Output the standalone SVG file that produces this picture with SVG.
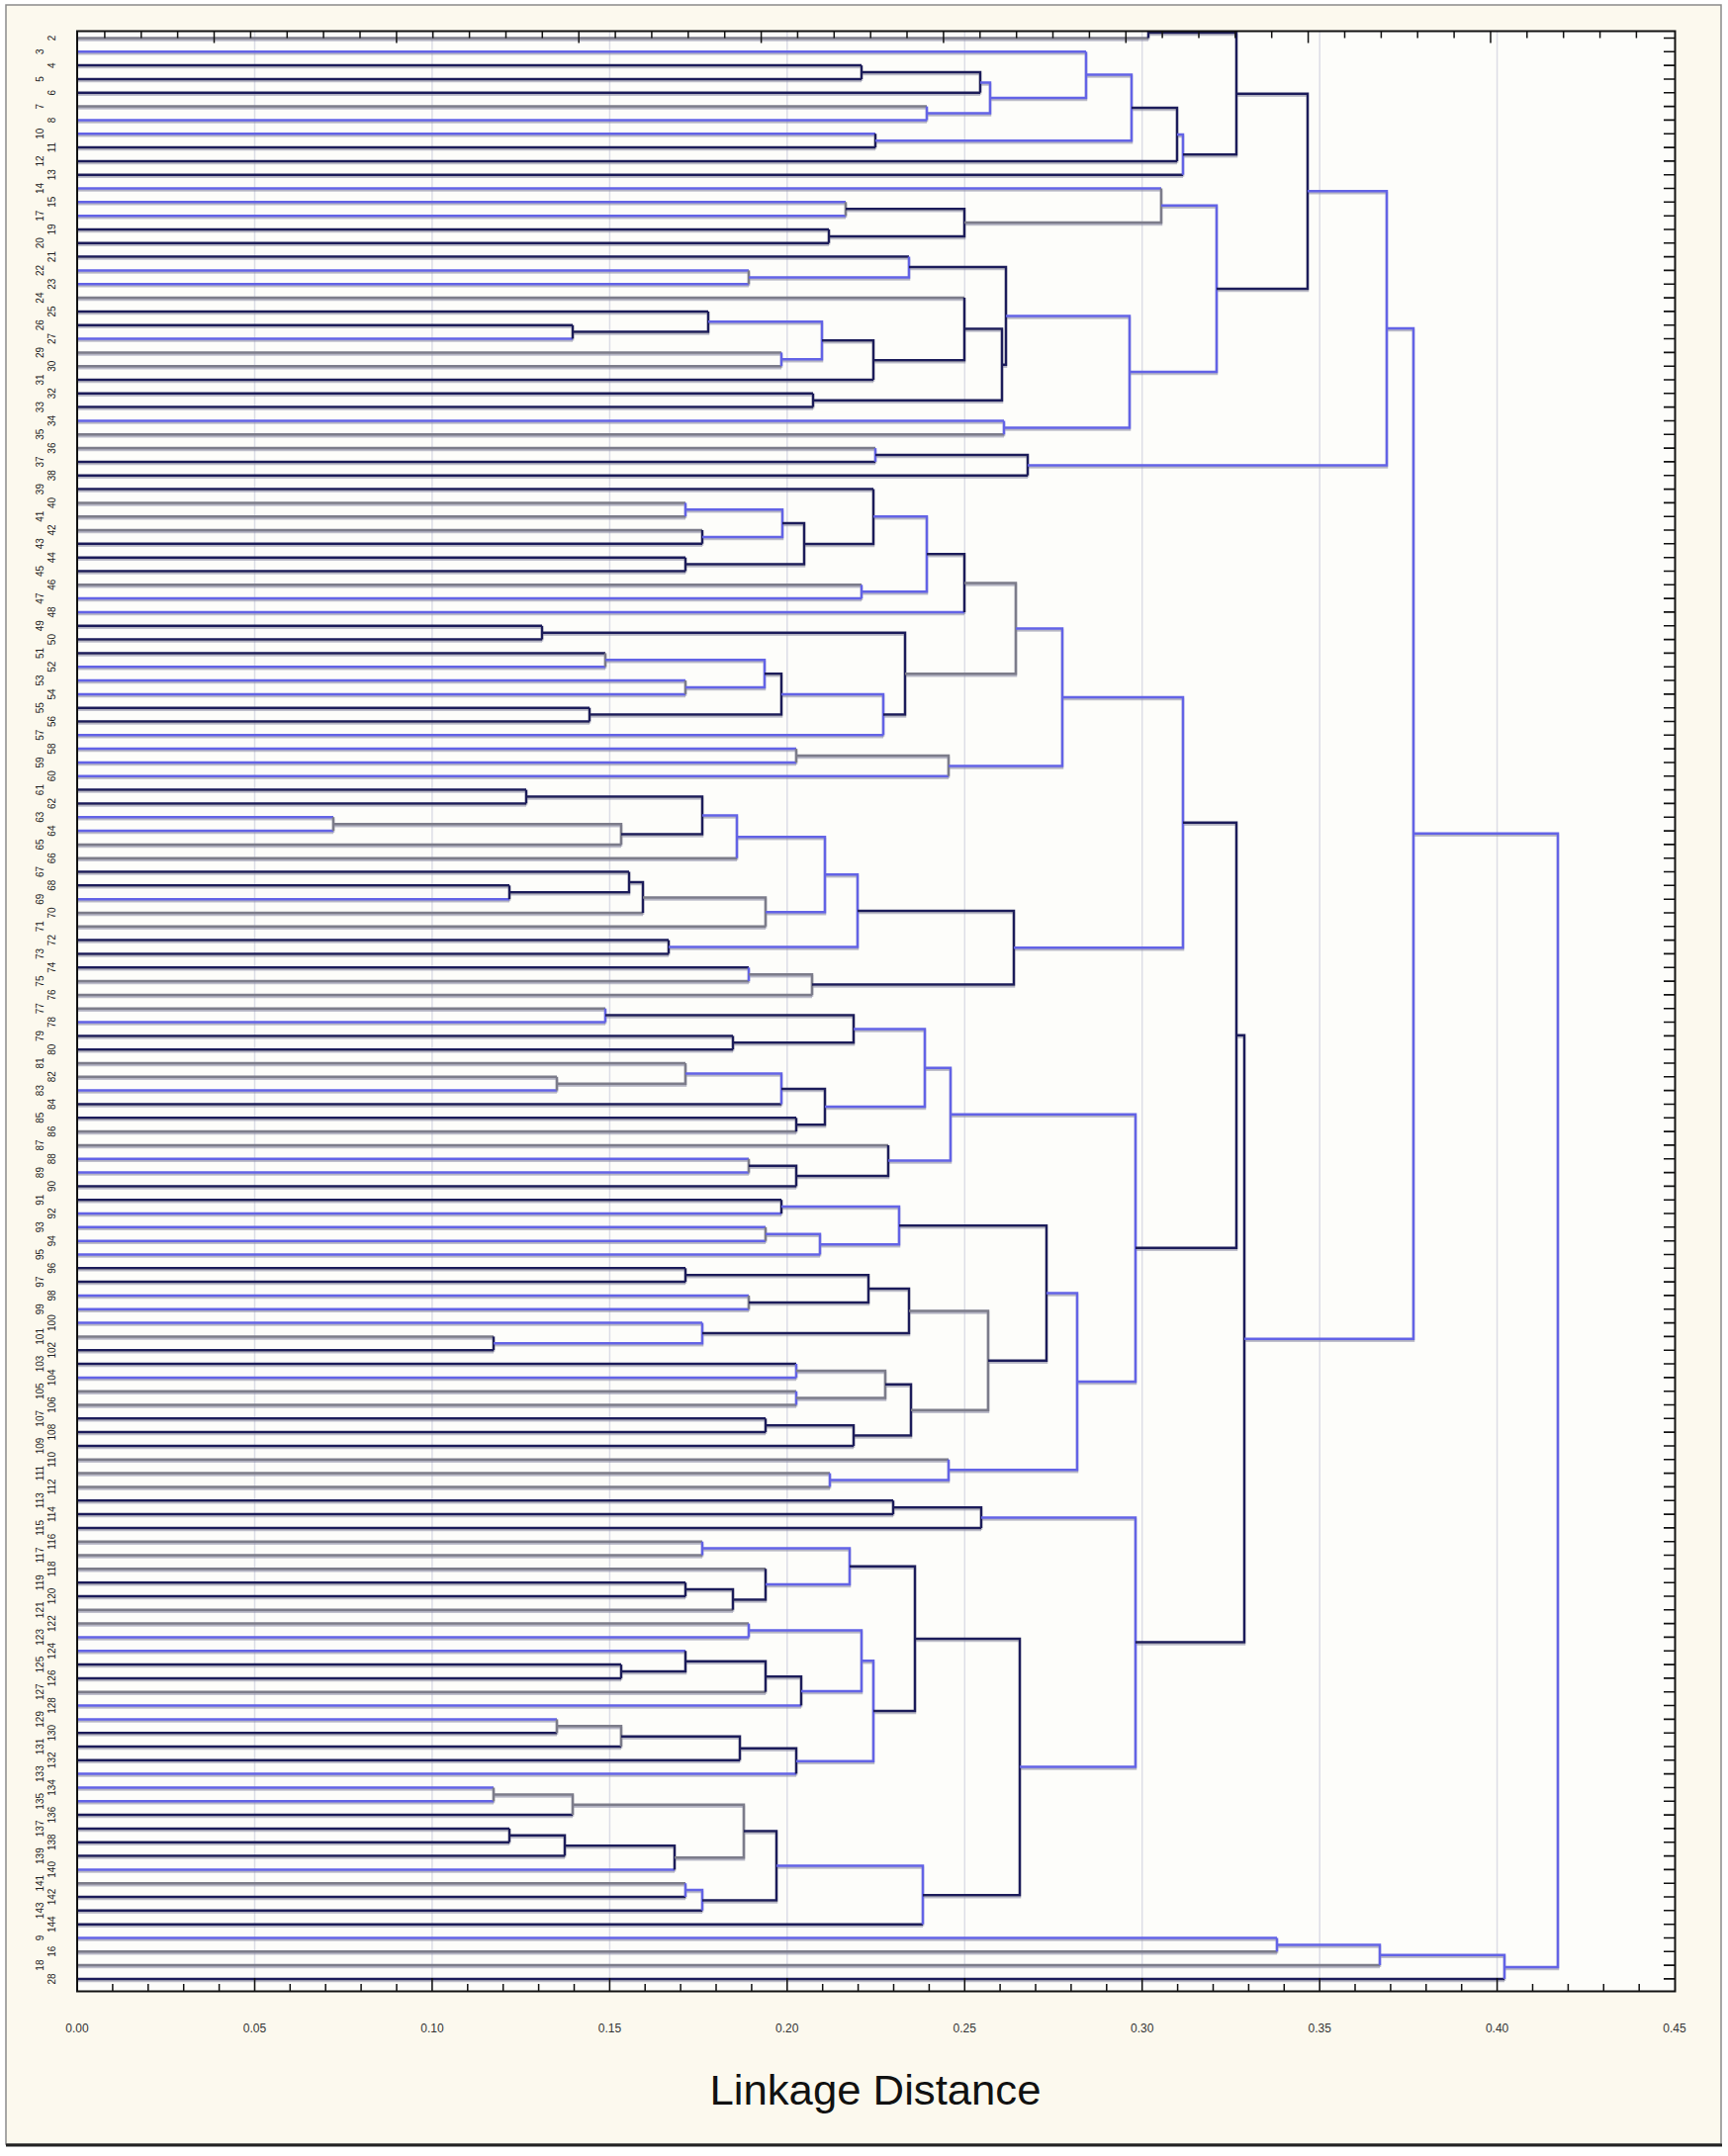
<svg xmlns="http://www.w3.org/2000/svg" width="1747" height="2180" viewBox="0 0 1747 2180">
<style>
.d{stroke:#1e1e5a}.b{stroke:#6464e6}.g{stroke:#7c7c8a}
#connectors path{fill:none;stroke-width:2.5;stroke-linecap:butt}
.lbl{font-family:"Liberation Sans",Arial,sans-serif;font-size:10px;fill:#222;text-anchor:middle}
.tk{font-family:"Liberation Sans",Arial,sans-serif;font-size:12px;fill:#333;text-anchor:middle}
.grid{stroke:#dcdde6;stroke-width:1.5;fill:none}
.axis{stroke:#111;fill:none}
</style>
<defs>
<filter id="sh" x="-2%" y="-2%" width="104%" height="104%">
<feDropShadow dx="0" dy="1.8" stdDeviation="0.4" flood-color="#9090a8" flood-opacity="0.7"/>
</filter>
</defs>
<rect x="0" y="0" width="1747" height="2180" fill="#ffffff"/>
<rect x="6" y="5" width="1734" height="2163" fill="#fcf9ee" stroke="#8a8a8a" stroke-width="1.5"/>
<line x1="6" y1="2169" x2="1741" y2="2169" stroke="#222" stroke-width="3"/>
<rect x="78" y="31.5" width="1615.5" height="1982" fill="#fdfdfa"/>
<g id="grid">
<path class="grid" d="M257.5 32V2013M436.9 32V2013M616.4 32V2013M795.8 32V2013M975.3 32V2013M1154.7 32V2013M1334.2 32V2013M1513.6 32V2013"/>
</g>
<g id="connectors" filter="url(#sh)">
<path class="g" d="M78 38.5H1161"/>
<path class="b" d="M78 52.3H1098"/>
<path class="d" d="M78 66.1H871"/>
<path class="d" d="M78 80H871"/>
<path class="d" d="M78 93.8H991"/>
<path class="g" d="M78 107.6H937"/>
<path class="b" d="M78 121.4H937"/>
<path class="b" d="M78 135.2H885"/>
<path class="d" d="M78 149.1H885"/>
<path class="d" d="M78 162.9H1190"/>
<path class="d" d="M78 176.7H1196"/>
<path class="b" d="M78 190.5H1174"/>
<path class="b" d="M78 204.3H855"/>
<path class="b" d="M78 218.2H855"/>
<path class="d" d="M78 232H838"/>
<path class="d" d="M78 245.8H838"/>
<path class="d" d="M78 259.6H919"/>
<path class="b" d="M78 273.4H757"/>
<path class="b" d="M78 287.3H757"/>
<path class="g" d="M78 301.1H975"/>
<path class="d" d="M78 314.9H716"/>
<path class="d" d="M78 328.7H579"/>
<path class="b" d="M78 342.5H579"/>
<path class="g" d="M78 356.4H790"/>
<path class="g" d="M78 370.2H790"/>
<path class="d" d="M78 384H883"/>
<path class="d" d="M78 397.8H822"/>
<path class="d" d="M78 411.6H822"/>
<path class="b" d="M78 425.5H1015"/>
<path class="g" d="M78 439.3H1015"/>
<path class="g" d="M78 453.1H885"/>
<path class="d" d="M78 466.9H885"/>
<path class="d" d="M78 480.7H1039"/>
<path class="d" d="M78 494.6H883"/>
<path class="g" d="M78 508.4H693"/>
<path class="g" d="M78 522.2H693"/>
<path class="g" d="M78 536H710"/>
<path class="d" d="M78 549.8H710"/>
<path class="d" d="M78 563.7H693"/>
<path class="d" d="M78 577.5H693"/>
<path class="g" d="M78 591.3H871"/>
<path class="b" d="M78 605.1H871"/>
<path class="b" d="M78 618.9H975"/>
<path class="d" d="M78 632.8H548"/>
<path class="d" d="M78 646.6H548"/>
<path class="d" d="M78 660.4H612"/>
<path class="b" d="M78 674.2H612"/>
<path class="b" d="M78 688H693"/>
<path class="b" d="M78 701.9H693"/>
<path class="d" d="M78 715.7H596"/>
<path class="d" d="M78 729.5H596"/>
<path class="b" d="M78 743.3H893"/>
<path class="b" d="M78 757.1H805"/>
<path class="b" d="M78 771H805"/>
<path class="b" d="M78 784.8H959"/>
<path class="d" d="M78 798.6H532"/>
<path class="d" d="M78 812.4H532"/>
<path class="b" d="M78 826.2H337"/>
<path class="b" d="M78 840.1H337"/>
<path class="g" d="M78 853.9H628"/>
<path class="g" d="M78 867.7H745"/>
<path class="d" d="M78 881.5H636"/>
<path class="d" d="M78 895.3H515"/>
<path class="b" d="M78 909.2H515"/>
<path class="g" d="M78 923H650"/>
<path class="g" d="M78 936.8H774"/>
<path class="d" d="M78 950.6H676"/>
<path class="d" d="M78 964.4H676"/>
<path class="d" d="M78 978.3H757"/>
<path class="g" d="M78 992.1H757"/>
<path class="g" d="M78 1005.9H821"/>
<path class="g" d="M78 1019.7H612"/>
<path class="b" d="M78 1033.5H612"/>
<path class="d" d="M78 1047.4H741"/>
<path class="d" d="M78 1061.2H741"/>
<path class="g" d="M78 1075H693"/>
<path class="g" d="M78 1088.8H563"/>
<path class="b" d="M78 1102.6H563"/>
<path class="d" d="M78 1116.5H790"/>
<path class="d" d="M78 1130.3H805"/>
<path class="g" d="M78 1144.1H805"/>
<path class="g" d="M78 1157.9H898"/>
<path class="b" d="M78 1171.7H757"/>
<path class="b" d="M78 1185.6H757"/>
<path class="d" d="M78 1199.4H805"/>
<path class="d" d="M78 1213.2H790"/>
<path class="b" d="M78 1227H790"/>
<path class="b" d="M78 1240.8H774"/>
<path class="b" d="M78 1254.7H774"/>
<path class="b" d="M78 1268.5H829"/>
<path class="d" d="M78 1282.3H693"/>
<path class="d" d="M78 1296.1H693"/>
<path class="b" d="M78 1309.9H757"/>
<path class="b" d="M78 1323.8H757"/>
<path class="b" d="M78 1337.6H710"/>
<path class="g" d="M78 1351.4H499"/>
<path class="d" d="M78 1365.2H499"/>
<path class="d" d="M78 1379H805"/>
<path class="b" d="M78 1392.9H805"/>
<path class="g" d="M78 1406.7H805"/>
<path class="g" d="M78 1420.5H805"/>
<path class="d" d="M78 1434.3H774"/>
<path class="d" d="M78 1448.1H774"/>
<path class="d" d="M78 1462H863"/>
<path class="g" d="M78 1475.8H959"/>
<path class="g" d="M78 1489.6H839"/>
<path class="g" d="M78 1503.4H839"/>
<path class="d" d="M78 1517.2H903"/>
<path class="d" d="M78 1531.1H903"/>
<path class="d" d="M78 1544.9H992"/>
<path class="g" d="M78 1558.7H710"/>
<path class="g" d="M78 1572.5H710"/>
<path class="g" d="M78 1586.3H774"/>
<path class="d" d="M78 1600.2H693"/>
<path class="d" d="M78 1614H693"/>
<path class="g" d="M78 1627.8H741"/>
<path class="g" d="M78 1641.6H757"/>
<path class="b" d="M78 1655.4H757"/>
<path class="b" d="M78 1669.3H693"/>
<path class="d" d="M78 1683.1H628"/>
<path class="d" d="M78 1696.9H628"/>
<path class="g" d="M78 1710.7H774"/>
<path class="b" d="M78 1724.5H810"/>
<path class="b" d="M78 1738.4H563"/>
<path class="d" d="M78 1752.2H563"/>
<path class="d" d="M78 1766H628"/>
<path class="d" d="M78 1779.8H748"/>
<path class="b" d="M78 1793.6H805"/>
<path class="b" d="M78 1807.5H499"/>
<path class="b" d="M78 1821.3H499"/>
<path class="d" d="M78 1835.1H579"/>
<path class="d" d="M78 1848.9H515"/>
<path class="d" d="M78 1862.7H515"/>
<path class="d" d="M78 1876.6H571"/>
<path class="b" d="M78 1890.4H682"/>
<path class="g" d="M78 1904.2H693"/>
<path class="d" d="M78 1918H693"/>
<path class="d" d="M78 1931.8H710"/>
<path class="d" d="M78 1945.7H933"/>
<path class="b" d="M78 1959.5H1291"/>
<path class="g" d="M78 1973.3H1291"/>
<path class="g" d="M78 1987.1H1395"/>
<path class="d" d="M78 2000.9H1521"/>
<path class="d" d="M871 66.1V80"/>
<path class="d" d="M871 73.1H991V93.8"/>
<path class="b" d="M937 107.6V121.4"/>
<path class="b" d="M991 83.4H1001V114.5H937"/>
<path class="b" d="M1098 52.3V99H1001"/>
<path class="d" d="M885 135.2V149.1"/>
<path class="b" d="M1098 75.6H1144V142.2H885"/>
<path class="d" d="M1144 108.9H1190V162.9"/>
<path class="b" d="M1190 135.9H1196V176.7"/>
<path class="d" d="M1161 38.5V33H1250V156.3H1196"/>
<path class="g" d="M855 204.3V218.2"/>
<path class="d" d="M838 232V245.8"/>
<path class="d" d="M855 211.3H975V238.9H838"/>
<path class="g" d="M1174 190.5V225.1H975"/>
<path class="g" d="M757 273.4V287.3"/>
<path class="b" d="M919 259.6V280.4H757"/>
<path class="d" d="M579 328.7V342.5"/>
<path class="d" d="M716 314.9V335.6H579"/>
<path class="b" d="M790 356.4V370.2"/>
<path class="b" d="M716 325.3H831V363.3H790"/>
<path class="d" d="M831 344.3H883V384"/>
<path class="d" d="M975 301.1V364.2H883"/>
<path class="d" d="M822 397.8V411.6"/>
<path class="d" d="M975 332.6H1013V404.7H822"/>
<path class="d" d="M919 270H1017V368.7H1013"/>
<path class="b" d="M1015 425.5V439.3"/>
<path class="b" d="M1017 319.4H1142V432.4H1015"/>
<path class="b" d="M1174 207.8H1230V375.9H1142"/>
<path class="d" d="M1250 94.7H1322V291.9H1230"/>
<path class="b" d="M885 453.1V466.9"/>
<path class="d" d="M885 460H1039V480.7"/>
<path class="b" d="M1322 193.3H1402V470.4H1039"/>
<path class="b" d="M693 508.4V522.2"/>
<path class="d" d="M710 536V549.8"/>
<path class="b" d="M693 515.3H791V542.9H710"/>
<path class="d" d="M693 563.7V577.5"/>
<path class="d" d="M791 529.1H813V570.6H693"/>
<path class="d" d="M883 494.6V549.9H813"/>
<path class="b" d="M871 591.3V605.1"/>
<path class="b" d="M883 522.3H937V598.2H871"/>
<path class="d" d="M937 560.3H975V618.9"/>
<path class="d" d="M548 632.8V646.6"/>
<path class="g" d="M612 660.4V674.2"/>
<path class="g" d="M693 688V701.9"/>
<path class="b" d="M612 667.3H773V695H693"/>
<path class="d" d="M596 715.7V729.5"/>
<path class="d" d="M773 681.2H790V722.6H596"/>
<path class="b" d="M790 701.9H893V743.3"/>
<path class="d" d="M548 639.7H915V722.6H893"/>
<path class="g" d="M975 589.6H1027V681.2H915"/>
<path class="g" d="M805 757.1V771"/>
<path class="g" d="M805 764.1H959V784.8"/>
<path class="b" d="M1027 635.4H1074V774.5H959"/>
<path class="d" d="M532 798.6V812.4"/>
<path class="g" d="M337 826.2V840.1"/>
<path class="g" d="M337 833.2H628V853.9"/>
<path class="d" d="M532 805.5H710V843.6H628"/>
<path class="b" d="M710 824.6H745V867.7"/>
<path class="d" d="M515 895.3V909.2"/>
<path class="d" d="M636 881.5V902.3H515"/>
<path class="d" d="M636 891.9H650V923"/>
<path class="g" d="M650 907.5H774V936.8"/>
<path class="b" d="M745 846.2H834V922.2H774"/>
<path class="d" d="M676 950.6V964.4"/>
<path class="b" d="M834 884.2H867V957.5H676"/>
<path class="b" d="M757 978.3V992.1"/>
<path class="g" d="M757 985.2H821V1005.9"/>
<path class="d" d="M867 920.9H1025V995.6H821"/>
<path class="b" d="M1074 705H1196V958.3H1025"/>
<path class="b" d="M612 1019.7V1033.5"/>
<path class="d" d="M741 1047.4V1061.2"/>
<path class="d" d="M612 1026.6H863V1054.3H741"/>
<path class="g" d="M563 1088.8V1102.6"/>
<path class="g" d="M693 1075V1095.7H563"/>
<path class="b" d="M693 1085.4H790V1116.5"/>
<path class="d" d="M805 1130.3V1144.1"/>
<path class="d" d="M790 1101H834V1137.2H805"/>
<path class="b" d="M863 1040.5H935V1119.1H834"/>
<path class="g" d="M757 1171.7V1185.6"/>
<path class="d" d="M757 1178.7H805V1199.4"/>
<path class="d" d="M898 1157.9V1189.1H805"/>
<path class="b" d="M935 1079.8H961V1173.5H898"/>
<path class="d" d="M790 1213.2V1227"/>
<path class="g" d="M774 1240.8V1254.7"/>
<path class="b" d="M774 1247.8H829V1268.5"/>
<path class="b" d="M790 1220.1H909V1258.2H829"/>
<path class="d" d="M693 1282.3V1296.1"/>
<path class="g" d="M757 1309.9V1323.8"/>
<path class="d" d="M693 1289.2H878V1316.9H757"/>
<path class="d" d="M499 1351.4V1365.2"/>
<path class="b" d="M710 1337.6V1358.3H499"/>
<path class="d" d="M878 1303.1H919V1348H710"/>
<path class="b" d="M805 1379V1392.9"/>
<path class="b" d="M805 1406.7V1420.5"/>
<path class="g" d="M805 1386H895V1413.6H805"/>
<path class="d" d="M774 1434.3V1448.1"/>
<path class="d" d="M774 1441.2H863V1462"/>
<path class="d" d="M895 1399.8H921V1451.6H863"/>
<path class="g" d="M919 1325.6H999V1425.7H921"/>
<path class="d" d="M909 1239.2H1058V1375.7H999"/>
<path class="b" d="M839 1489.6V1503.4"/>
<path class="b" d="M959 1475.8V1496.5H839"/>
<path class="b" d="M1058 1307.5H1089V1486.2H959"/>
<path class="b" d="M961 1126.7H1148V1396.9H1089"/>
<path class="d" d="M1196 831.7H1250V1261.8H1148"/>
<path class="d" d="M903 1517.2V1531.1"/>
<path class="d" d="M903 1524.2H992V1544.9"/>
<path class="b" d="M710 1558.7V1572.5"/>
<path class="d" d="M693 1600.2V1614"/>
<path class="d" d="M693 1607.1H741V1627.8"/>
<path class="d" d="M774 1586.3V1617.5H741"/>
<path class="b" d="M710 1565.6H859V1601.9H774"/>
<path class="b" d="M757 1641.6V1655.4"/>
<path class="d" d="M628 1683.1V1696.9"/>
<path class="d" d="M693 1669.3V1690H628"/>
<path class="d" d="M693 1679.7H774V1710.7"/>
<path class="d" d="M774 1695.2H810V1724.5"/>
<path class="b" d="M757 1648.5H871V1709.9H810"/>
<path class="g" d="M563 1738.4V1752.2"/>
<path class="g" d="M563 1745.3H628V1766"/>
<path class="d" d="M628 1755.7H748V1779.8"/>
<path class="d" d="M748 1767.8H805V1793.6"/>
<path class="b" d="M871 1679.2H883V1780.7H805"/>
<path class="d" d="M859 1583.8H925V1730H883"/>
<path class="g" d="M499 1807.5V1821.3"/>
<path class="g" d="M499 1814.4H579V1835.1"/>
<path class="d" d="M515 1848.9V1862.7"/>
<path class="d" d="M515 1855.8H571V1876.6"/>
<path class="d" d="M571 1866.2H682V1890.4"/>
<path class="g" d="M579 1824.8H752V1878.3H682"/>
<path class="b" d="M693 1904.2V1918"/>
<path class="b" d="M693 1911.1H710V1931.8"/>
<path class="d" d="M752 1851.6H785V1921.5H710"/>
<path class="b" d="M785 1886.6H933V1945.7"/>
<path class="d" d="M925 1656.9H1031V1916.2H933"/>
<path class="b" d="M992 1534.6H1148V1786.6H1031"/>
<path class="d" d="M1250 1046.8H1258V1660.6H1148"/>
<path class="b" d="M1402 331.9H1429V1353.7H1258"/>
<path class="b" d="M1291 1959.5V1973.3"/>
<path class="b" d="M1291 1966.4H1395V1987.1"/>
<path class="b" d="M1395 1976.8H1521V2000.9"/>
<path class="b" d="M1429 842.8H1575V1988.9H1521"/>
</g>
<g id="frame">
<rect class="axis" x="78" y="31.5" width="1615.5" height="1982" stroke-width="2"/>
<path class="axis" stroke-width="1.5" d="M78 2013v-13M113.9 2013v-7M149.8 2013v-7M185.7 2013v-7M221.6 2013v-7M257.5 2013v-13M293.3 2013v-7M329.2 2013v-7M365.1 2013v-7M401 2013v-7M436.9 2013v-13M472.8 2013v-7M508.7 2013v-7M544.6 2013v-7M580.5 2013v-7M616.4 2013v-13M652.2 2013v-7M688.1 2013v-7M724 2013v-7M759.9 2013v-7M795.8 2013v-13M831.7 2013v-7M867.6 2013v-7M903.5 2013v-7M939.4 2013v-7M975.3 2013v-13M1011.1 2013v-7M1047 2013v-7M1082.9 2013v-7M1118.8 2013v-7M1154.7 2013v-13M1190.6 2013v-7M1226.5 2013v-7M1262.4 2013v-7M1298.3 2013v-7M1334.2 2013v-13M1370 2013v-7M1405.9 2013v-7M1441.8 2013v-7M1477.7 2013v-7M1513.6 2013v-13M1549.5 2013v-7M1585.4 2013v-7M1621.3 2013v-7M1657.2 2013v-7"/>
<path class="axis" stroke-width="1.5" d="M105.9 31.5v7M142.8 31.5v7M179.6 31.5v7M216.5 31.5v12M253.4 31.5v7M290.3 31.5v7M327.1 31.5v7M364 31.5v7M400.9 31.5v12M437.7 31.5v7M474.6 31.5v7M511.5 31.5v7M548.3 31.5v7M585.2 31.5v12M622.1 31.5v7M658.9 31.5v7M695.8 31.5v7M732.7 31.5v7M769.6 31.5v12M806.4 31.5v7M843.3 31.5v7M880.2 31.5v7M917 31.5v7M953.9 31.5v12M990.8 31.5v7M1027.7 31.5v7M1064.5 31.5v7M1101.4 31.5v7M1138.3 31.5v12M1175.1 31.5v7M1212 31.5v7M1248.9 31.5v7M1285.7 31.5v7M1322.6 31.5v12M1359.5 31.5v7M1396.4 31.5v7M1433.2 31.5v7M1470.1 31.5v7M1507 31.5v12M1543.8 31.5v7M1580.7 31.5v7M1617.6 31.5v7M1654.4 31.5v7"/>
<path class="axis" stroke-width="1.6" d="M1682 38.5h11M1682 52.3h11M1682 66.1h11M1682 80h11M1682 93.8h11M1682 107.6h11M1682 121.4h11M1682 135.2h11M1682 149.1h11M1682 162.9h11M1682 176.7h11M1682 190.5h11M1682 204.3h11M1682 218.2h11M1682 232h11M1682 245.8h11M1682 259.6h11M1682 273.4h11M1682 287.3h11M1682 301.1h11M1682 314.9h11M1682 328.7h11M1682 342.5h11M1682 356.4h11M1682 370.2h11M1682 384h11M1682 397.8h11M1682 411.6h11M1682 425.5h11M1682 439.3h11M1682 453.1h11M1682 466.9h11M1682 480.7h11M1682 494.6h11M1682 508.4h11M1682 522.2h11M1682 536h11M1682 549.8h11M1682 563.7h11M1682 577.5h11M1682 591.3h11M1682 605.1h11M1682 618.9h11M1682 632.8h11M1682 646.6h11M1682 660.4h11M1682 674.2h11M1682 688h11M1682 701.9h11M1682 715.7h11M1682 729.5h11M1682 743.3h11M1682 757.1h11M1682 771h11M1682 784.8h11M1682 798.6h11M1682 812.4h11M1682 826.2h11M1682 840.1h11M1682 853.9h11M1682 867.7h11M1682 881.5h11M1682 895.3h11M1682 909.2h11M1682 923h11M1682 936.8h11M1682 950.6h11M1682 964.4h11M1682 978.3h11M1682 992.1h11M1682 1005.9h11M1682 1019.7h11M1682 1033.5h11M1682 1047.4h11M1682 1061.2h11M1682 1075h11M1682 1088.8h11M1682 1102.6h11M1682 1116.5h11M1682 1130.3h11M1682 1144.1h11M1682 1157.9h11M1682 1171.7h11M1682 1185.6h11M1682 1199.4h11M1682 1213.2h11M1682 1227h11M1682 1240.8h11M1682 1254.7h11M1682 1268.5h11M1682 1282.3h11M1682 1296.1h11M1682 1309.9h11M1682 1323.8h11M1682 1337.6h11M1682 1351.4h11M1682 1365.2h11M1682 1379h11M1682 1392.9h11M1682 1406.7h11M1682 1420.5h11M1682 1434.3h11M1682 1448.1h11M1682 1462h11M1682 1475.8h11M1682 1489.6h11M1682 1503.4h11M1682 1517.2h11M1682 1531.1h11M1682 1544.9h11M1682 1558.7h11M1682 1572.5h11M1682 1586.3h11M1682 1600.2h11M1682 1614h11M1682 1627.8h11M1682 1641.6h11M1682 1655.4h11M1682 1669.3h11M1682 1683.1h11M1682 1696.9h11M1682 1710.7h11M1682 1724.5h11M1682 1738.4h11M1682 1752.2h11M1682 1766h11M1682 1779.8h11M1682 1793.6h11M1682 1807.5h11M1682 1821.3h11M1682 1835.1h11M1682 1848.9h11M1682 1862.7h11M1682 1876.6h11M1682 1890.4h11M1682 1904.2h11M1682 1918h11M1682 1931.8h11M1682 1945.7h11M1682 1959.5h11M1682 1973.3h11M1682 1987.1h11M1682 2000.9h11"/>
</g>
<g id="x-axis-labels">
<text class="tk" x="78" y="2055">0.00</text>
<text class="tk" x="257.5" y="2055">0.05</text>
<text class="tk" x="436.9" y="2055">0.10</text>
<text class="tk" x="616.4" y="2055">0.15</text>
<text class="tk" x="795.8" y="2055">0.20</text>
<text class="tk" x="975.3" y="2055">0.25</text>
<text class="tk" x="1154.7" y="2055">0.30</text>
<text class="tk" x="1334.2" y="2055">0.35</text>
<text class="tk" x="1513.6" y="2055">0.40</text>
<text class="tk" x="1693" y="2055">0.45</text>
</g>
<g id="axis-title">
<text x="885" y="2128" font-family="'Liberation Sans',Arial,sans-serif" font-size="42" fill="#111" text-anchor="middle" textLength="335" lengthAdjust="spacingAndGlyphs">Linkage Distance</text>
</g>
<g id="leaves">
<g id="leaf-0"><text class="lbl" transform="translate(56 38.5) rotate(-90)">2</text></g>
<g id="leaf-1"><text class="lbl" transform="translate(44 52.3) rotate(-90)">3</text></g>
<g id="leaf-2"><text class="lbl" transform="translate(56 66.1) rotate(-90)">4</text></g>
<g id="leaf-3"><text class="lbl" transform="translate(44 80) rotate(-90)">5</text></g>
<g id="leaf-4"><text class="lbl" transform="translate(56 93.8) rotate(-90)">6</text></g>
<g id="leaf-5"><text class="lbl" transform="translate(44 107.6) rotate(-90)">7</text></g>
<g id="leaf-6"><text class="lbl" transform="translate(56 121.4) rotate(-90)">8</text></g>
<g id="leaf-7"><text class="lbl" transform="translate(44 135.2) rotate(-90)">10</text></g>
<g id="leaf-8"><text class="lbl" transform="translate(56 149.1) rotate(-90)">11</text></g>
<g id="leaf-9"><text class="lbl" transform="translate(44 162.9) rotate(-90)">12</text></g>
<g id="leaf-10"><text class="lbl" transform="translate(56 176.7) rotate(-90)">13</text></g>
<g id="leaf-11"><text class="lbl" transform="translate(44 190.5) rotate(-90)">14</text></g>
<g id="leaf-12"><text class="lbl" transform="translate(56 204.3) rotate(-90)">15</text></g>
<g id="leaf-13"><text class="lbl" transform="translate(44 218.2) rotate(-90)">17</text></g>
<g id="leaf-14"><text class="lbl" transform="translate(56 232) rotate(-90)">19</text></g>
<g id="leaf-15"><text class="lbl" transform="translate(44 245.8) rotate(-90)">20</text></g>
<g id="leaf-16"><text class="lbl" transform="translate(56 259.6) rotate(-90)">21</text></g>
<g id="leaf-17"><text class="lbl" transform="translate(44 273.4) rotate(-90)">22</text></g>
<g id="leaf-18"><text class="lbl" transform="translate(56 287.3) rotate(-90)">23</text></g>
<g id="leaf-19"><text class="lbl" transform="translate(44 301.1) rotate(-90)">24</text></g>
<g id="leaf-20"><text class="lbl" transform="translate(56 314.9) rotate(-90)">25</text></g>
<g id="leaf-21"><text class="lbl" transform="translate(44 328.7) rotate(-90)">26</text></g>
<g id="leaf-22"><text class="lbl" transform="translate(56 342.5) rotate(-90)">27</text></g>
<g id="leaf-23"><text class="lbl" transform="translate(44 356.4) rotate(-90)">29</text></g>
<g id="leaf-24"><text class="lbl" transform="translate(56 370.2) rotate(-90)">30</text></g>
<g id="leaf-25"><text class="lbl" transform="translate(44 384) rotate(-90)">31</text></g>
<g id="leaf-26"><text class="lbl" transform="translate(56 397.8) rotate(-90)">32</text></g>
<g id="leaf-27"><text class="lbl" transform="translate(44 411.6) rotate(-90)">33</text></g>
<g id="leaf-28"><text class="lbl" transform="translate(56 425.5) rotate(-90)">34</text></g>
<g id="leaf-29"><text class="lbl" transform="translate(44 439.3) rotate(-90)">35</text></g>
<g id="leaf-30"><text class="lbl" transform="translate(56 453.1) rotate(-90)">36</text></g>
<g id="leaf-31"><text class="lbl" transform="translate(44 466.9) rotate(-90)">37</text></g>
<g id="leaf-32"><text class="lbl" transform="translate(56 480.7) rotate(-90)">38</text></g>
<g id="leaf-33"><text class="lbl" transform="translate(44 494.6) rotate(-90)">39</text></g>
<g id="leaf-34"><text class="lbl" transform="translate(56 508.4) rotate(-90)">40</text></g>
<g id="leaf-35"><text class="lbl" transform="translate(44 522.2) rotate(-90)">41</text></g>
<g id="leaf-36"><text class="lbl" transform="translate(56 536) rotate(-90)">42</text></g>
<g id="leaf-37"><text class="lbl" transform="translate(44 549.8) rotate(-90)">43</text></g>
<g id="leaf-38"><text class="lbl" transform="translate(56 563.7) rotate(-90)">44</text></g>
<g id="leaf-39"><text class="lbl" transform="translate(44 577.5) rotate(-90)">45</text></g>
<g id="leaf-40"><text class="lbl" transform="translate(56 591.3) rotate(-90)">46</text></g>
<g id="leaf-41"><text class="lbl" transform="translate(44 605.1) rotate(-90)">47</text></g>
<g id="leaf-42"><text class="lbl" transform="translate(56 618.9) rotate(-90)">48</text></g>
<g id="leaf-43"><text class="lbl" transform="translate(44 632.8) rotate(-90)">49</text></g>
<g id="leaf-44"><text class="lbl" transform="translate(56 646.6) rotate(-90)">50</text></g>
<g id="leaf-45"><text class="lbl" transform="translate(44 660.4) rotate(-90)">51</text></g>
<g id="leaf-46"><text class="lbl" transform="translate(56 674.2) rotate(-90)">52</text></g>
<g id="leaf-47"><text class="lbl" transform="translate(44 688) rotate(-90)">53</text></g>
<g id="leaf-48"><text class="lbl" transform="translate(56 701.9) rotate(-90)">54</text></g>
<g id="leaf-49"><text class="lbl" transform="translate(44 715.7) rotate(-90)">55</text></g>
<g id="leaf-50"><text class="lbl" transform="translate(56 729.5) rotate(-90)">56</text></g>
<g id="leaf-51"><text class="lbl" transform="translate(44 743.3) rotate(-90)">57</text></g>
<g id="leaf-52"><text class="lbl" transform="translate(56 757.1) rotate(-90)">58</text></g>
<g id="leaf-53"><text class="lbl" transform="translate(44 771) rotate(-90)">59</text></g>
<g id="leaf-54"><text class="lbl" transform="translate(56 784.8) rotate(-90)">60</text></g>
<g id="leaf-55"><text class="lbl" transform="translate(44 798.6) rotate(-90)">61</text></g>
<g id="leaf-56"><text class="lbl" transform="translate(56 812.4) rotate(-90)">62</text></g>
<g id="leaf-57"><text class="lbl" transform="translate(44 826.2) rotate(-90)">63</text></g>
<g id="leaf-58"><text class="lbl" transform="translate(56 840.1) rotate(-90)">64</text></g>
<g id="leaf-59"><text class="lbl" transform="translate(44 853.9) rotate(-90)">65</text></g>
<g id="leaf-60"><text class="lbl" transform="translate(56 867.7) rotate(-90)">66</text></g>
<g id="leaf-61"><text class="lbl" transform="translate(44 881.5) rotate(-90)">67</text></g>
<g id="leaf-62"><text class="lbl" transform="translate(56 895.3) rotate(-90)">68</text></g>
<g id="leaf-63"><text class="lbl" transform="translate(44 909.2) rotate(-90)">69</text></g>
<g id="leaf-64"><text class="lbl" transform="translate(56 923) rotate(-90)">70</text></g>
<g id="leaf-65"><text class="lbl" transform="translate(44 936.8) rotate(-90)">71</text></g>
<g id="leaf-66"><text class="lbl" transform="translate(56 950.6) rotate(-90)">72</text></g>
<g id="leaf-67"><text class="lbl" transform="translate(44 964.4) rotate(-90)">73</text></g>
<g id="leaf-68"><text class="lbl" transform="translate(56 978.3) rotate(-90)">74</text></g>
<g id="leaf-69"><text class="lbl" transform="translate(44 992.1) rotate(-90)">75</text></g>
<g id="leaf-70"><text class="lbl" transform="translate(56 1005.9) rotate(-90)">76</text></g>
<g id="leaf-71"><text class="lbl" transform="translate(44 1019.7) rotate(-90)">77</text></g>
<g id="leaf-72"><text class="lbl" transform="translate(56 1033.5) rotate(-90)">78</text></g>
<g id="leaf-73"><text class="lbl" transform="translate(44 1047.4) rotate(-90)">79</text></g>
<g id="leaf-74"><text class="lbl" transform="translate(56 1061.2) rotate(-90)">80</text></g>
<g id="leaf-75"><text class="lbl" transform="translate(44 1075) rotate(-90)">81</text></g>
<g id="leaf-76"><text class="lbl" transform="translate(56 1088.8) rotate(-90)">82</text></g>
<g id="leaf-77"><text class="lbl" transform="translate(44 1102.6) rotate(-90)">83</text></g>
<g id="leaf-78"><text class="lbl" transform="translate(56 1116.5) rotate(-90)">84</text></g>
<g id="leaf-79"><text class="lbl" transform="translate(44 1130.3) rotate(-90)">85</text></g>
<g id="leaf-80"><text class="lbl" transform="translate(56 1144.1) rotate(-90)">86</text></g>
<g id="leaf-81"><text class="lbl" transform="translate(44 1157.9) rotate(-90)">87</text></g>
<g id="leaf-82"><text class="lbl" transform="translate(56 1171.7) rotate(-90)">88</text></g>
<g id="leaf-83"><text class="lbl" transform="translate(44 1185.6) rotate(-90)">89</text></g>
<g id="leaf-84"><text class="lbl" transform="translate(56 1199.4) rotate(-90)">90</text></g>
<g id="leaf-85"><text class="lbl" transform="translate(44 1213.2) rotate(-90)">91</text></g>
<g id="leaf-86"><text class="lbl" transform="translate(56 1227) rotate(-90)">92</text></g>
<g id="leaf-87"><text class="lbl" transform="translate(44 1240.8) rotate(-90)">93</text></g>
<g id="leaf-88"><text class="lbl" transform="translate(56 1254.7) rotate(-90)">94</text></g>
<g id="leaf-89"><text class="lbl" transform="translate(44 1268.5) rotate(-90)">95</text></g>
<g id="leaf-90"><text class="lbl" transform="translate(56 1282.3) rotate(-90)">96</text></g>
<g id="leaf-91"><text class="lbl" transform="translate(44 1296.1) rotate(-90)">97</text></g>
<g id="leaf-92"><text class="lbl" transform="translate(56 1309.9) rotate(-90)">98</text></g>
<g id="leaf-93"><text class="lbl" transform="translate(44 1323.8) rotate(-90)">99</text></g>
<g id="leaf-94"><text class="lbl" transform="translate(56 1337.6) rotate(-90)">100</text></g>
<g id="leaf-95"><text class="lbl" transform="translate(44 1351.4) rotate(-90)">101</text></g>
<g id="leaf-96"><text class="lbl" transform="translate(56 1365.2) rotate(-90)">102</text></g>
<g id="leaf-97"><text class="lbl" transform="translate(44 1379) rotate(-90)">103</text></g>
<g id="leaf-98"><text class="lbl" transform="translate(56 1392.9) rotate(-90)">104</text></g>
<g id="leaf-99"><text class="lbl" transform="translate(44 1406.7) rotate(-90)">105</text></g>
<g id="leaf-100"><text class="lbl" transform="translate(56 1420.5) rotate(-90)">106</text></g>
<g id="leaf-101"><text class="lbl" transform="translate(44 1434.3) rotate(-90)">107</text></g>
<g id="leaf-102"><text class="lbl" transform="translate(56 1448.1) rotate(-90)">108</text></g>
<g id="leaf-103"><text class="lbl" transform="translate(44 1462) rotate(-90)">109</text></g>
<g id="leaf-104"><text class="lbl" transform="translate(56 1475.8) rotate(-90)">110</text></g>
<g id="leaf-105"><text class="lbl" transform="translate(44 1489.6) rotate(-90)">111</text></g>
<g id="leaf-106"><text class="lbl" transform="translate(56 1503.4) rotate(-90)">112</text></g>
<g id="leaf-107"><text class="lbl" transform="translate(44 1517.2) rotate(-90)">113</text></g>
<g id="leaf-108"><text class="lbl" transform="translate(56 1531.1) rotate(-90)">114</text></g>
<g id="leaf-109"><text class="lbl" transform="translate(44 1544.9) rotate(-90)">115</text></g>
<g id="leaf-110"><text class="lbl" transform="translate(56 1558.7) rotate(-90)">116</text></g>
<g id="leaf-111"><text class="lbl" transform="translate(44 1572.5) rotate(-90)">117</text></g>
<g id="leaf-112"><text class="lbl" transform="translate(56 1586.3) rotate(-90)">118</text></g>
<g id="leaf-113"><text class="lbl" transform="translate(44 1600.2) rotate(-90)">119</text></g>
<g id="leaf-114"><text class="lbl" transform="translate(56 1614) rotate(-90)">120</text></g>
<g id="leaf-115"><text class="lbl" transform="translate(44 1627.8) rotate(-90)">121</text></g>
<g id="leaf-116"><text class="lbl" transform="translate(56 1641.6) rotate(-90)">122</text></g>
<g id="leaf-117"><text class="lbl" transform="translate(44 1655.4) rotate(-90)">123</text></g>
<g id="leaf-118"><text class="lbl" transform="translate(56 1669.3) rotate(-90)">124</text></g>
<g id="leaf-119"><text class="lbl" transform="translate(44 1683.1) rotate(-90)">125</text></g>
<g id="leaf-120"><text class="lbl" transform="translate(56 1696.9) rotate(-90)">126</text></g>
<g id="leaf-121"><text class="lbl" transform="translate(44 1710.7) rotate(-90)">127</text></g>
<g id="leaf-122"><text class="lbl" transform="translate(56 1724.5) rotate(-90)">128</text></g>
<g id="leaf-123"><text class="lbl" transform="translate(44 1738.4) rotate(-90)">129</text></g>
<g id="leaf-124"><text class="lbl" transform="translate(56 1752.2) rotate(-90)">130</text></g>
<g id="leaf-125"><text class="lbl" transform="translate(44 1766) rotate(-90)">131</text></g>
<g id="leaf-126"><text class="lbl" transform="translate(56 1779.8) rotate(-90)">132</text></g>
<g id="leaf-127"><text class="lbl" transform="translate(44 1793.6) rotate(-90)">133</text></g>
<g id="leaf-128"><text class="lbl" transform="translate(56 1807.5) rotate(-90)">134</text></g>
<g id="leaf-129"><text class="lbl" transform="translate(44 1821.3) rotate(-90)">135</text></g>
<g id="leaf-130"><text class="lbl" transform="translate(56 1835.1) rotate(-90)">136</text></g>
<g id="leaf-131"><text class="lbl" transform="translate(44 1848.9) rotate(-90)">137</text></g>
<g id="leaf-132"><text class="lbl" transform="translate(56 1862.7) rotate(-90)">138</text></g>
<g id="leaf-133"><text class="lbl" transform="translate(44 1876.6) rotate(-90)">139</text></g>
<g id="leaf-134"><text class="lbl" transform="translate(56 1890.4) rotate(-90)">140</text></g>
<g id="leaf-135"><text class="lbl" transform="translate(44 1904.2) rotate(-90)">141</text></g>
<g id="leaf-136"><text class="lbl" transform="translate(56 1918) rotate(-90)">142</text></g>
<g id="leaf-137"><text class="lbl" transform="translate(44 1931.8) rotate(-90)">143</text></g>
<g id="leaf-138"><text class="lbl" transform="translate(56 1945.7) rotate(-90)">144</text></g>
<g id="leaf-139"><text class="lbl" transform="translate(44 1959.5) rotate(-90)">9</text></g>
<g id="leaf-140"><text class="lbl" transform="translate(56 1973.3) rotate(-90)">16</text></g>
<g id="leaf-141"><text class="lbl" transform="translate(44 1987.1) rotate(-90)">18</text></g>
<g id="leaf-142"><text class="lbl" transform="translate(56 2000.9) rotate(-90)">28</text></g>
</g>
</svg>
